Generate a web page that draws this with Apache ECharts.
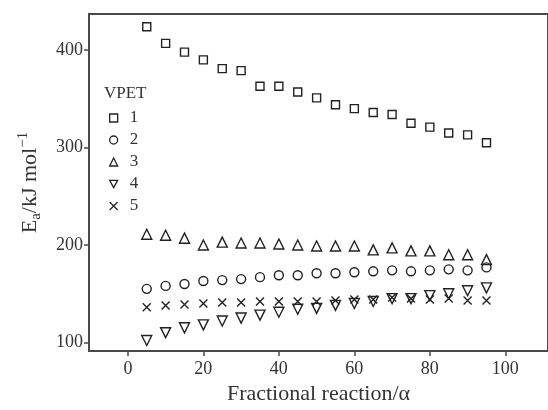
<!DOCTYPE html>
<html>
<head>
<meta charset="utf-8">
<script src="https://cdn.jsdelivr.net/npm/echarts@6/dist/echarts.min.js"></script>
<style>
  html, body { margin: 0; padding: 0; background: #fff; }
  #chart { width: 548px; height: 410px; }
</style>
</head>
<body>
<div id="chart"></div>
<script>
// fractional reaction (alpha, %)
const alpha = [5, 10, 15, 20, 25, 30, 35, 40, 45, 50, 55, 60, 65, 70, 75, 80, 85, 90, 95];

// activation energy Ea (kJ/mol) per VPET sample
const vpet1 = [424, 407, 398, 390, 381, 379, 363, 363, 357, 351, 344, 340, 336, 334, 325, 321, 315, 313, 305];
const vpet2 = [155, 158, 160, 163, 164, 165, 167, 169, 169, 171, 171, 172, 173, 174, 173, 174, 175, 174, 177];
const vpet3 = [211, 210, 207, 200, 203, 202, 202, 201, 200, 199, 199, 199, 195, 197, 194, 194, 190, 190, 185];
const vpet4 = [102, 110, 115, 118, 122, 125, 128, 131, 134, 135, 138, 140, 142, 145, 145, 148, 150, 153, 156];
const vpet5 = [136, 138, 139, 140, 141, 141, 142, 142, 142, 142, 143, 144, 144, 146, 145, 144, 145, 143, 143];

const seriesNames = ['1', '2', '3', '4', '5'];
const xTicks = [0, 20, 40, 60, 80, 100];
const yTicks = [100, 200, 300, 400];

const FONT = 'Liberation Serif';
const INK = '#222';

function pairs(ys) {
  return alpha.map((a, i) => [a, ys[i]]);
}

// marker shapes: square, circle, triangle, inverted triangle, cross
const markers = [
  { symbol: 'rect', size: 8 },
  { symbol: 'circle', size: 9 },
  { symbol: 'triangle', size: 10 },
  { symbol: 'path://M0,0L10,0L5,9Z', size: 10 },
  { symbol: 'path://M0,0L10,10M10,0L0,10', size: 8 }
];

const allData = [vpet1, vpet2, vpet3, vpet4, vpet5];

const chart = echarts.init(document.getElementById('chart'), null, { renderer: 'canvas' });

const option = {
  backgroundColor: '#fff',
  animation: false,
  textStyle: { fontFamily: FONT },
  title: {
    text: 'VPET',
    left: 104,
    top: 85,
    padding: 0,
    textStyle: { fontFamily: FONT, fontSize: 17, fontWeight: 'normal', color: '#333' }
  },
  legend: {
    orient: 'vertical',
    left: 109,
    top: 109,
    padding: 0,
    itemWidth: 8,
    itemHeight: 8,
    itemGap: 4,
    data: seriesNames,
    itemStyle: { borderWidth: 1.3, borderColor: INK, color: 'rgba(255,255,255,0)' },
    textStyle: {
      fontFamily: FONT,
      fontSize: 17,
      color: '#333',
      lineHeight: 18,
      padding: [0, 0, 0, 7]
    }
  },
  grid: {
    left: 89,
    right: -2,
    top: 14,
    bottom: 47,
    show: true,
    borderColor: '#4a4a4a',
    borderWidth: 2,
    backgroundColor: 'transparent'
  },
  xAxis: {
    type: 'value',
    min: -10.3,
    max: 111.3,
    name: 'Fractional reaction/α',
    nameLocation: 'middle',
    nameGap: 28,
    nameTextStyle: { fontFamily: FONT, fontSize: 22, color: '#333' },
    axisLine: { onZero: false, lineStyle: { color: '#4a4a4a', width: 2 } },
    axisTick: { customValues: xTicks, length: 5, lineStyle: { color: '#4a4a4a', width: 1.5 } },
    axisLabel: { customValues: xTicks, fontFamily: FONT, fontSize: 18, color: '#333', margin: 9 },
    splitLine: { show: false }
  },
  yAxis: {
    type: 'value',
    min: 91.1,
    max: 437.1,
    name: '{n|E}{s|a}{n|/kJ mol}{p|−1}',
    nameLocation: 'middle',
    nameGap: 45,
    nameTextStyle: {
      fontFamily: FONT,
      color: '#333',
      rich: {
        n: { fontFamily: FONT, fontSize: 22, color: '#333', lineHeight: 28, verticalAlign: 'middle' },
        s: { fontFamily: FONT, fontSize: 15, color: '#333', lineHeight: 28, verticalAlign: 'bottom' },
        p: { fontFamily: FONT, fontSize: 15, color: '#333', lineHeight: 28, verticalAlign: 'top' }
      }
    },
    axisLine: { onZero: false, lineStyle: { color: '#4a4a4a', width: 2 } },
    axisTick: { customValues: yTicks, length: 5, lineStyle: { color: '#4a4a4a', width: 1.5 } },
    axisLabel: { customValues: yTicks, fontFamily: FONT, fontSize: 18, color: '#333', margin: 6 },
    splitLine: { show: false }
  },
  series: seriesNames.map((name, i) => ({
    name: name,
    type: 'scatter',
    data: pairs(allData[i]),
    symbol: markers[i].symbol,
    symbolSize: markers[i].size,
    itemStyle: {
      color: 'rgba(255,255,255,0)',
      borderColor: INK,
      borderWidth: 1.4,
      opacity: 1
    },
    emphasis: { disabled: true }
  }))
};

chart.setOption(option);
</script>
</body>
</html>
